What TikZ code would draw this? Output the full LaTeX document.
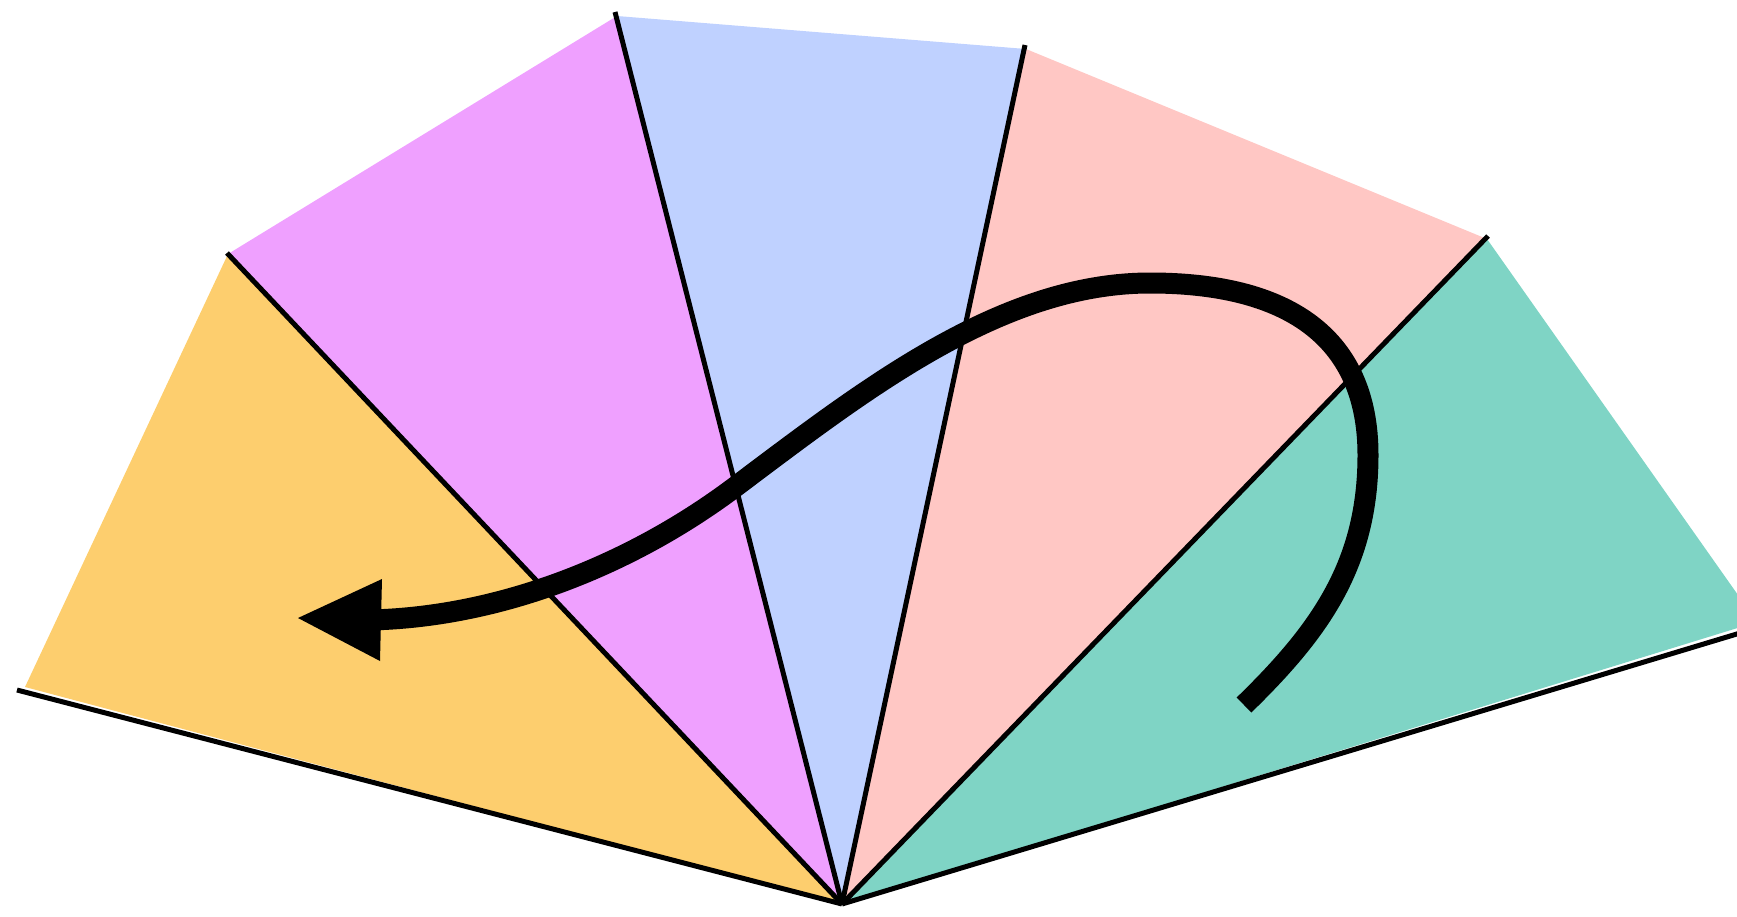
\documentclass[tikz,border=0pt]{standalone}
\definecolor{cOrange}{RGB}{253,206,110}
\definecolor{cPink}{RGB}{239,160,255}
\definecolor{cBlue}{RGB}{191,209,255}
\definecolor{cSalmon}{RGB}{255,199,196}
\definecolor{cTeal}{RGB}{127,212,197}
\begin{document}
\begin{tikzpicture}[x=1pt,y=-1pt,
  fanline/.style={line width=5pt},
  bigcurve/.style={line width=21pt}]
\useasboundingbox (0,0) rectangle (1737,916);
\clip (0,0) rectangle (1737,916);
% apex and fill corners
\coordinate (O) at (842,904);
\coordinate (P0) at (25,687);
\coordinate (A) at (228,254);
\coordinate (B) at (617,16);
\coordinate (C) at (1026,49);
\coordinate (D) at (1487,239);
\coordinate (E) at (1757,622);
% line ends
\coordinate (L0) at (17,690);
\coordinate (LA) at (227,253);
\coordinate (LB) at (615,12);
\coordinate (LC) at (1025,45);
\coordinate (LD) at (1488,236);
\coordinate (LE) at (1760,627);
% fills
\fill[cOrange] (O) -- (P0) -- (A) -- cycle;
\fill[cPink] (O) -- (A) -- (B) -- cycle;
\fill[cBlue] (O) -- (B) -- (C) -- cycle;
\fill[cSalmon] (O) -- (C) -- (D) -- cycle;
\fill[cTeal] (O) -- (D) -- (E) -- cycle;
% fan lines
\draw[fanline] (O) -- (L0);
\draw[fanline] (O) -- (LA);
\draw[fanline] (O) -- (LB);
\draw[fanline] (O) -- (LC);
\draw[fanline] (O) -- (LD);
\draw[fanline] (O) -- (LE);
% curve
\coordinate (S) at (1244,705);
\coordinate (R) at (1368,455);
\coordinate (T) at (1150,283);
\coordinate (M) at (735,487);
\coordinate (F) at (370,620);
\draw[bigcurve] (S) .. controls (1319,632) and (1368,565) .. (R)
  .. controls (1368,335) and (1285,283) .. (T)
  .. controls (1000,283) and (863,391) .. (M)
  .. controls (631,565) and (500,617) .. (F);
% arrowhead
\coordinate (tip) at (298,618);
\coordinate (h1) at (382,579);
\coordinate (h2) at (380,661);
\fill (tip) -- (h1) -- (h2) -- cycle;
\end{tikzpicture}
\end{document}
